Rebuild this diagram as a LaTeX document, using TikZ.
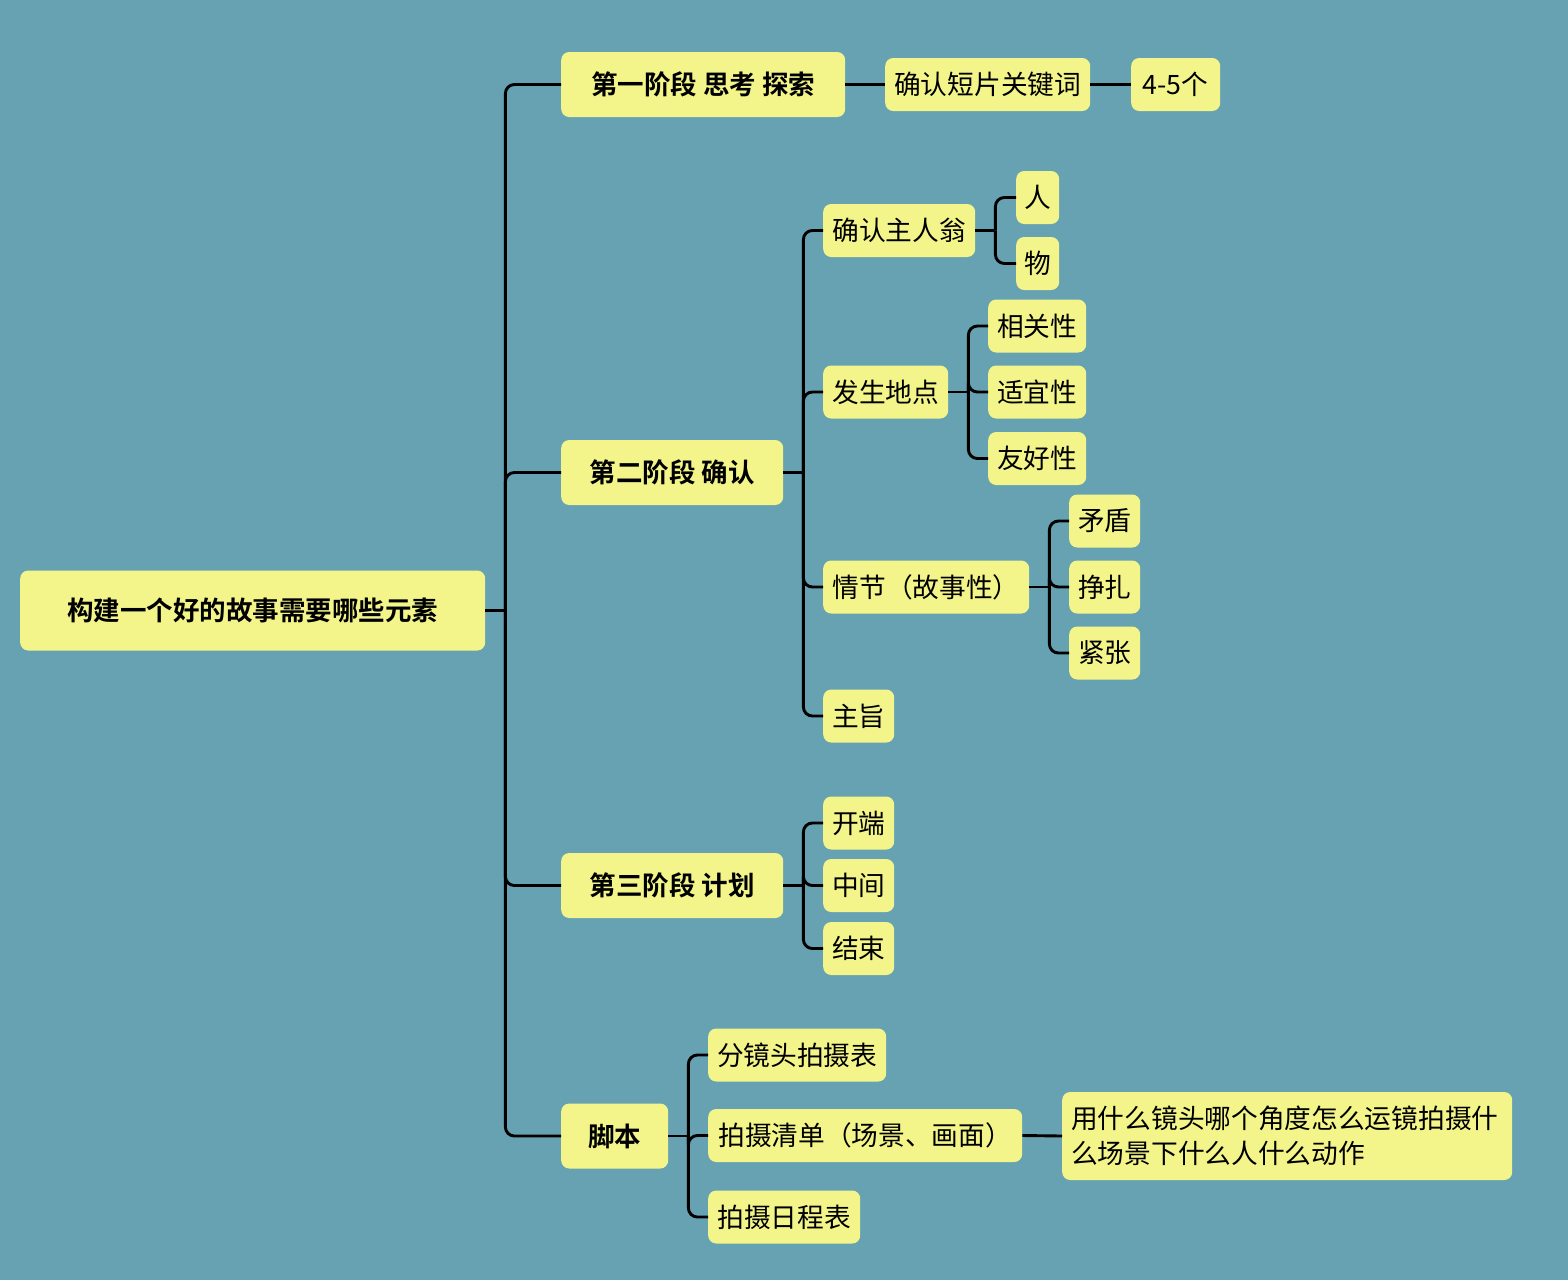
\documentclass[tikz,border=0pt]{standalone}
\usepackage{fontspec}
\setmainfont{Noto Sans CJK SC}[BoldFont={Noto Sans CJK SC Bold}]
\definecolor{bgc}{HTML}{66A2B2}
\definecolor{nodefill}{HTML}{F3F58A}
\tikzset{
  box/.style={fill=nodefill, rounded corners=8pt, inner sep=0pt, anchor=west, text=black,
    font=\fontsize{26.7}{30}\selectfont},
  bbox/.style={box, font=\fontsize{26.5}{30}\selectfont\bfseries},
  link/.style={line width=2.9pt, draw=black, rounded corners=9pt},
}
\newcommand{\nd}[7][box]{\node[#1, minimum width={(#4)-(#3)}, minimum height=#6] (#2) at (#3,#5) {#7};}
\newcommand{\br}[2]{\draw[link] (#1.east) -- ++(20,0); \draw[link] (#1.east) ++(20,0) |- (#2.west);}
\newcommand{\st}[2]{\draw[link] (#1.east) -- (#2.west);}
\begin{document}
\begin{tikzpicture}[x=1pt,y=-1pt]
\useasboundingbox (0,0) rectangle (1568,1280);
\fill[bgc] (0,0) rectangle (1568,1280);
% root
\nd[bbox]{root}{20}{485}{610.5}{80}{构建一个好的故事需要哪些元素}
% level 1
\nd[bbox]{a}{561}{845}{84.5}{65}{第一阶段 思考 探索}
\nd[bbox]{b}{561}{783}{472.5}{65}{第二阶段 确认}
\nd[bbox]{c}{561}{783}{885.5}{65}{第三阶段 计划}
\nd[bbox]{d}{561}{668}{1136}{65}{脚本}
% stage 1
\nd{a1}{885}{1090}{84.5}{53}{确认短片关键词}
\nd{a2}{1131}{1220}{84.5}{53}{4-5个}
% stage 2
\nd{b1}{823}{975}{230.5}{53}{确认主人翁}
\nd{b11}{1016}{1059}{197.5}{53}{人}
\nd{b12}{1016}{1059}{263.5}{53}{物}
\nd{b2}{823}{948}{392}{53}{发生地点}
\nd{b21}{988}{1086}{326}{53}{相关性}
\nd{b22}{988}{1086}{392}{53}{适宜性}
\nd{b23}{988}{1086}{458.5}{53}{友好性}
\nd{b3}{823}{1029}{587}{53}{情节（故事性）}
\nd{b31}{1069}{1140}{521}{53}{矛盾}
\nd{b32}{1069}{1140}{587}{53}{挣扎}
\nd{b33}{1069}{1140}{653}{53}{紧张}
\nd{b4}{823}{894}{716}{53}{主旨}
% stage 3
\nd{c1}{823}{894}{823}{53}{开端}
\nd{c2}{823}{894}{885.5}{53}{中间}
\nd{c3}{823}{894}{948.5}{53}{结束}
% script
\nd{d1}{708}{886}{1055}{53}{分镜头拍摄表}
\nd{d2}{708}{1022}{1135.5}{53}{拍摄清单（场景、画面）}
\nd{d3}{708}{860}{1217}{53}{拍摄日程表}
\node[box, minimum width=448, minimum height=88, align=left, text width=432, inner xsep=9pt,
  font=\fontsize{26.7}{35}\selectfont] (d21) at (1062,1136) {用什么镜头哪个角度怎么运镜拍摄什\\么场景下什么人什么动作};
% connectors
\br{root}{a}\br{root}{b}\br{root}{c}\br{root}{d}
\st{a}{a1}\st{a1}{a2}
\br{b}{b1}\br{b}{b2}\br{b}{b3}\br{b}{b4}
\br{b1}{b11}\br{b1}{b12}
\br{b2}{b21}\br{b2}{b22}\br{b2}{b23}
\br{b3}{b31}\br{b3}{b32}\br{b3}{b33}
\br{c}{c1}\br{c}{c2}\br{c}{c3}
\br{d}{d1}\br{d}{d2}\br{d}{d3}
\st{d2}{d21}
\end{tikzpicture}
\end{document}
